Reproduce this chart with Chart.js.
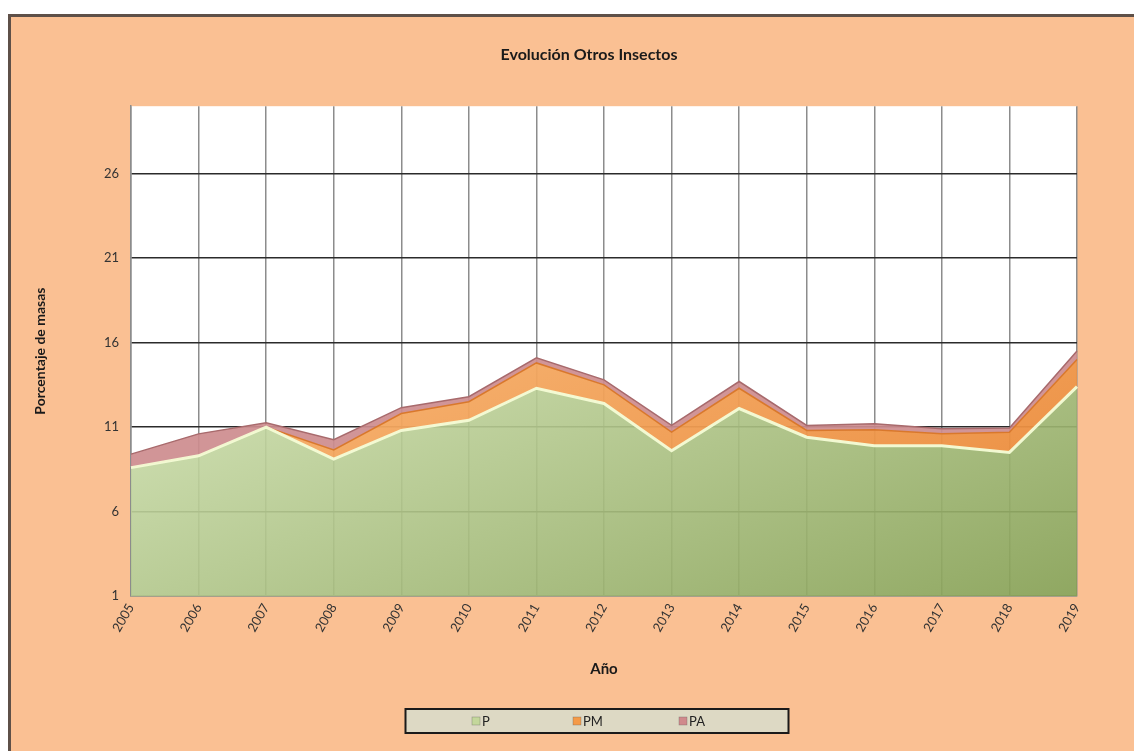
<!DOCTYPE html>
<html>
<head>
<meta charset="utf-8">
<script src="https://cdn.jsdelivr.net/npm/chart.js@4"></script>
<style>
  html, body { margin: 0; padding: 0; background: #fff; overflow: hidden; }
  .frame {
    position: absolute; left: 8px; top: 14px;
    border-left: 3px solid #5e5048; border-top: 3px solid #5e5048;
    background: #fac093;
  }
  canvas { display: block; }
</style>
</head>
<body>
<div class="frame">
  <canvas id="chart" width="1126" height="737"></canvas>
</div>
<script>
const years = ['2005', '2006', '2007', '2008', '2009', '2010', '2011', '2012', '2013', '2014', '2015', '2016', '2017', '2018', '2019'];
const pValues = [8.6, 9.3, 11.0, 9.1, 10.8, 11.4, 13.3, 12.4, 9.6, 12.1, 10.4, 9.9, 9.9, 9.5, 13.4];
const pmValues = [0, 0, 0, 0.55, 1.0, 1.1, 1.5, 1.1, 1.1, 1.2, 0.4, 0.95, 0.7, 1.2, 1.6];
const paValues = [0.8, 1.3, 0.25, 0.6, 0.35, 0.3, 0.3, 0.3, 0.4, 0.4, 0.3, 0.35, 0.3, 0.25, 0.5];
const yTicks = [1, 6, 11, 16, 21, 26];

const FONT = 'Lato, "Open Sans", sans-serif';

// gradient running from upper left to lower right of the plot area
function areaGradient(stops, fallback) {
  return (ctx) => {
    const area = ctx.chart.chartArea;
    if (!area) return fallback;
    const y0 = area.top + 290;
    const g = ctx.chart.ctx.createLinearGradient(area.left, y0, area.left + 194, y0 + 495);
    stops.forEach(([pos, col]) => g.addColorStop(pos, col));
    return g;
  };
}

const plotBackground = {
  id: 'plotBackground',
  beforeDraw(chart) {
    const { ctx, chartArea: a } = chart;
    ctx.save();
    ctx.fillStyle = '#ffffff';
    ctx.fillRect(a.left, a.top, a.right - a.left, a.bottom - a.top);
    ctx.restore();
  }
};

// boxed legend under the axis title
const boxLegend = {
  id: 'boxLegend',
  afterDraw(chart) {
    const { ctx, chartArea: a } = chart;
    const cx = (a.left + a.right) / 2 - 7;
    const w = 383, h = 24, top = 692;
    ctx.save();
    ctx.fillStyle = '#ddd9c4';
    ctx.fillRect(cx - w / 2, top, w, h);
    ctx.lineWidth = 2;
    ctx.strokeStyle = '#1a1a1a';
    ctx.strokeRect(cx - w / 2, top, w, h);

    const colors = ['#c4d79b', '#f59a48', '#d08a8c'];
    const offsets = [-125, -24, 82];
    ctx.font = '13px ' + FONT;
    ctx.textBaseline = 'middle';
    chart.data.datasets.forEach((ds, i) => {
      const x = cx + offsets[i];
      const y = top + h / 2;
      ctx.fillStyle = colors[i];
      ctx.fillRect(x, y - 4, 8, 8);
      ctx.strokeStyle = 'rgba(90,90,90,0.5)';
      ctx.lineWidth = 0.6;
      ctx.strokeRect(x, y - 4, 8, 8);
      ctx.fillStyle = '#222';
      ctx.fillText(ds.label, x + 10, y + 0.5);
    });
    ctx.restore();
  }
};

new Chart(document.getElementById('chart'), {
  type: 'line',
  data: {
    labels: years,
    datasets: [
      {
        label: 'P',
        data: pValues,
        fill: 'origin',
        backgroundColor: areaGradient([[0, 'rgba(203,221,171,0.9)'], [1, 'rgba(134,160,84,0.92)']], 'rgba(180,200,140,0.9)'),
        borderColor: 'rgba(244,252,214,0.95)',
        borderWidth: 3
      },
      {
        label: 'PM',
        data: pmValues,
        fill: '-1',
        backgroundColor: areaGradient([[0, 'rgba(247,178,110,0.95)'], [1, 'rgba(232,128,44,0.95)']], '#f09a50'),
        borderColor: '#d9782c',
        borderWidth: 1.5
      },
      {
        label: 'PA',
        data: paValues,
        fill: '-1',
        backgroundColor: 'rgba(205,140,142,0.92)',
        borderColor: '#a86a6c',
        borderWidth: 1.5
      }
    ]
  },
  options: {
    responsive: false,
    animation: false,
    elements: { line: { tension: 0 }, point: { radius: 0, hoverRadius: 0 } },
    layout: { padding: { left: 90, right: 60, top: 0, bottom: 0 } },
    plugins: {
      legend: { display: false },
      tooltip: { enabled: false },
      title: {
        display: true,
        text: 'Evolución Otros Insectos',
        color: '#1a1a1a',
        font: { family: FONT, size: 16, weight: 'bold' },
        padding: { top: 28, bottom: 42 }
      }
    },
    scales: {
      x: {
        grid: { color: '#8c8c8c', lineWidth: 1.5, drawTicks: false },
        border: { color: '#8a948a', width: 1.5 },
        ticks: {
          autoSkip: false, minRotation: 60, maxRotation: 60, padding: 5,
          color: '#333', font: { family: FONT, size: 13 }
        },
        title: {
          display: true, text: 'Año', color: '#1a1a1a',
          font: { family: FONT, size: 15, weight: 'bold' },
          padding: { top: 0, bottom: 76 }
        },
        afterFit(scale) { scale.height = 158; }
      },
      y: {
        stacked: true,
        min: 1,
        max: 30,
        afterBuildTicks(axis) { axis.ticks = yTicks.map(v => ({ value: v })); },
        grid: {
          color: (c) => c.tick && c.tick.value === 1 ? '#8a948a' : '#2b2b2b',
          lineWidth: 1.5,
          drawTicks: false
        },
        border: { color: '#8c8c8c', width: 1.5 },
        ticks: { padding: 12, color: '#333', font: { family: FONT, size: 13 } },
        title: {
          display: true, text: 'Porcentaje de masas', color: '#1a1a1a',
          font: { family: FONT, size: 14, weight: 'bold' },
          padding: { top: -69, bottom: 0 }
        },
        afterFit(scale) { scale.width = 30; }
      }
    }
  },
  plugins: [plotBackground, boxLegend]
});
</script>
</body>
</html>
